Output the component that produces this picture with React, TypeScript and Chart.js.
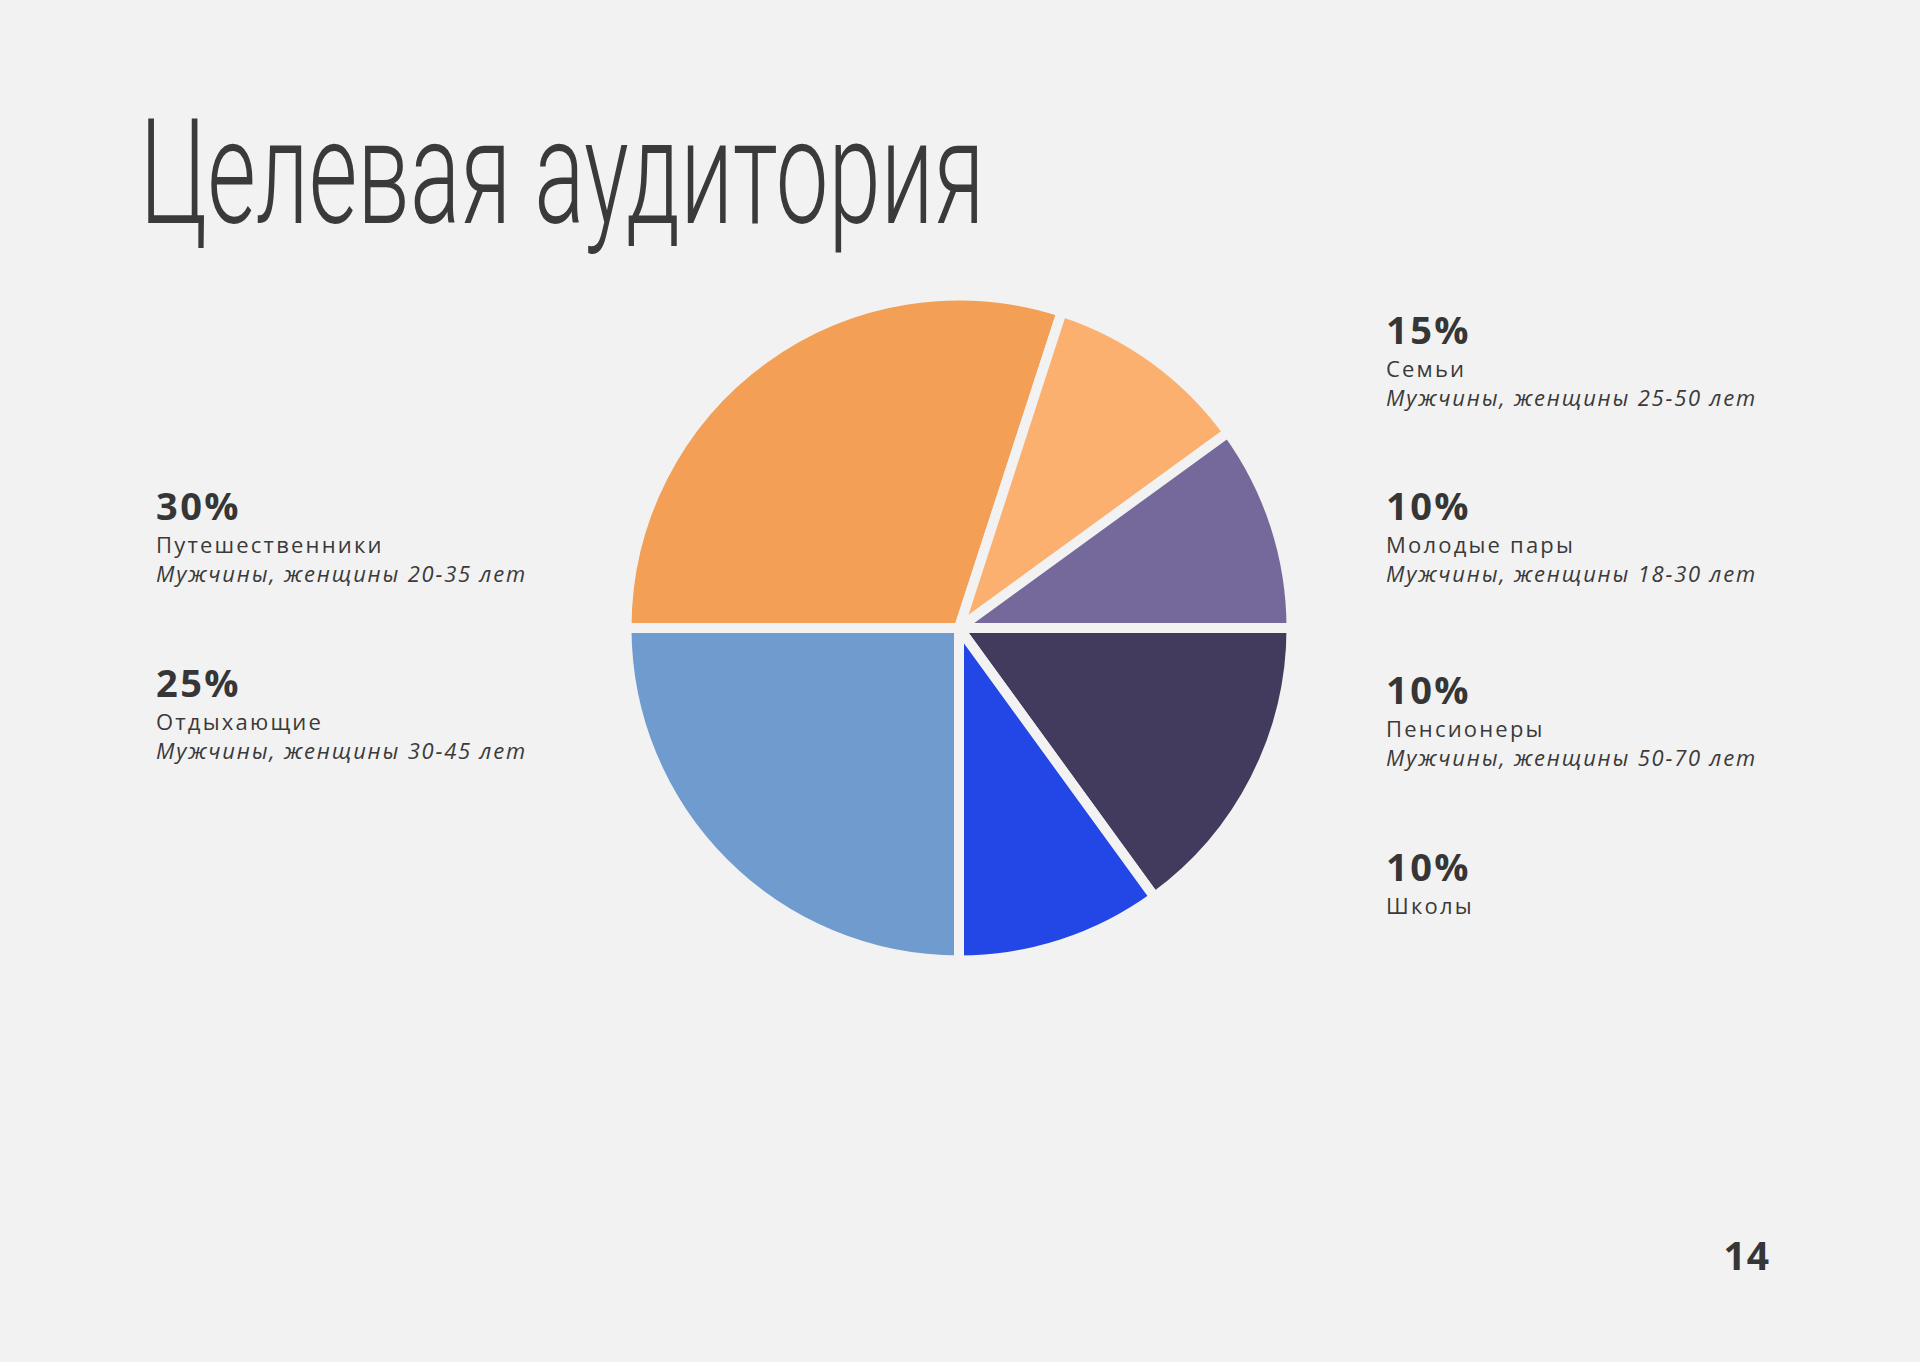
import React, { useEffect, useLayoutEffect, useRef, useState } from "react";
import { Chart, registerables } from "chart.js";

Chart.register(...registerables);

// ---- Data ----
const segmentLabels = ["Путешественники", "Молодые пары", "Пенсионеры", "Семьи", "Школы", "Отдыхающие"];
const segmentValues = [30, 10, 10, 15, 10, 25];
const segmentColors = ["#F39F55", "#FCB06F", "#75699C", "#433B5D", "#2347E6", "#709BCF"];
const segmentDescriptions = [
  "Мужчины, женщины 20-35 лет",
  "Мужчины, женщины 18-30 лет",
  "Мужчины, женщины 50-70 лет",
  "Мужчины, женщины 25-50 лет",
  "",
  "Мужчины, женщины 30-45 лет",
];
const leftLegendOrder = [0, 5];
const rightLegendOrder = [3, 1, 2, 4];
const titleText = "Целевая аудитория";
const pageNumber = "14";

// ---- Layout ----
const BG = "#F2F2F2";
const TEXT = "#3A3A3A";
const leftX = 156;
const rightX = 1386;
const leftBaselines = [520, 696.7];
const rightBaselines = [343.3, 520, 704, 880.7];
const BODY_FONT = "'Open Sans', sans-serif";

function FitText({ text, width, style }: { text: string; width: number; style: React.CSSProperties }) {
  const ref = useRef<HTMLSpanElement>(null);
  const [sx, setSx] = useState(1);
  useLayoutEffect(() => {
    const measure = () => {
      if (ref.current) {
        const w = ref.current.offsetWidth;
        if (w > 0) setSx(width / w);
      }
    };
    measure();
    if ((document as any).fonts && (document as any).fonts.ready) {
      (document as any).fonts.ready.then(measure);
    }
  }, [text, width]);
  return (
    <span
      ref={ref}
      style={{
        ...style,
        display: "inline-block",
        whiteSpace: "nowrap",
        transform: `scaleX(${sx})`,
        transformOrigin: "left top",
      }}
    >
      {text}
    </span>
  );
}

function PieChart() {
  const ref = useRef<HTMLCanvasElement>(null);
  useEffect(() => {
    if (!ref.current) return;
    const chart = new Chart(ref.current, {
      type: "pie",
      data: {
        labels: segmentLabels,
        datasets: [
          {
            data: segmentValues,
            backgroundColor: segmentColors,
            borderColor: BG,
            borderWidth: 10,
            hoverOffset: 0,
          },
        ],
      },
      options: {
        responsive: false,
        animation: false,
        rotation: -90,
        radius: 332.5,
        layout: { padding: 0 },
        plugins: { legend: { display: false }, tooltip: { enabled: false } },
        events: [],
      },
    });
    return () => chart.destroy();
  }, []);
  return (
    <canvas
      ref={ref}
      width={700}
      height={700}
      style={{ position: "absolute", left: 609, top: 278, width: 700, height: 700 }}
    />
  );
}

function LegendItem({ idx, x, baseline }: { idx: number; x: number; baseline: number }) {
  const pctSize = 38;
  const nameSize = 22;
  const common: React.CSSProperties = {
    position: "absolute",
    left: x,
    lineHeight: 1,
    whiteSpace: "nowrap",
    color: TEXT,
    fontFamily: BODY_FONT,
  };
  return (
    <>
      <div style={{ ...common, top: baseline - 0.888 * pctSize, fontSize: pctSize, fontWeight: 700, letterSpacing: 2.4, color: "#363636" }}>
        {segmentValues[idx]}%
      </div>
      <div style={{ ...common, top: baseline + 33 - 0.888 * nameSize, fontSize: nameSize, fontWeight: 400, letterSpacing: 2.2 }}>
        {segmentLabels[idx]}
      </div>
      {segmentDescriptions[idx] ? (
        <div style={{ ...common, top: baseline + 62 - 0.888 * nameSize, fontSize: nameSize, fontStyle: "italic", fontWeight: 400, letterSpacing: 1.8 }}>
          {segmentDescriptions[idx]}
        </div>
      ) : null}
    </>
  );
}

export default function App() {
  useEffect(() => {
    document.body.style.margin = "0";
    document.body.style.background = BG;
  }, []);
  const titleSize = 147;
  return (
    <div
      style={{
        position: "absolute",
        left: 0,
        top: 0,
        width: 1920,
        height: 1362,
        background: BG,
        overflow: "hidden",
      }}
    >
      <div style={{ position: "absolute", left: 140, top: 224 - 0.8415 * titleSize, lineHeight: 1 }}>
        <FitText
          text={titleText}
          width={845}
          style={{ fontFamily: "Roboto, sans-serif", fontWeight: 300, fontSize: titleSize, color: TEXT, lineHeight: 1 }}
        />
      </div>
      <PieChart />
      {leftLegendOrder.map((idx, i) => (
        <LegendItem key={"l" + idx} idx={idx} x={leftX} baseline={leftBaselines[i]} />
      ))}
      {rightLegendOrder.map((idx, i) => (
        <LegendItem key={"r" + idx} idx={idx} x={rightX} baseline={rightBaselines[i]} />
      ))}
      <div
        style={{
          position: "absolute",
          right: 1920 - 1770,
          top: 1270 - 0.888 * 39,
          fontSize: 39,
          lineHeight: 1,
          fontWeight: 700,
          fontFamily: BODY_FONT,
          color: "#363636",
          letterSpacing: 1,
        }}
      >
        {pageNumber}
      </div>
    </div>
  );
}
